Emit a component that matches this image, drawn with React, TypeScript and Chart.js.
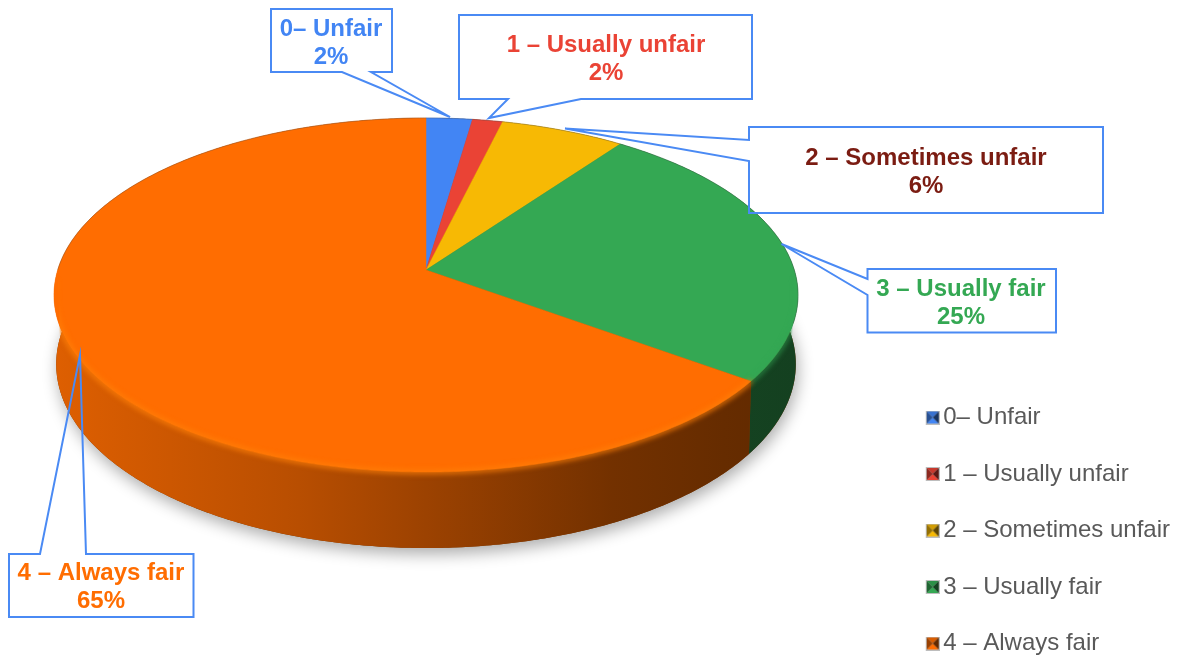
import React, { useEffect, useRef } from "react";
import { Chart, registerables } from "chart.js";

Chart.register(...registerables);

const categories = ["0– Unfair", "1 – Usually unfair", "2 – Sometimes unfair", "3 – Usually fair", "4 – Always fair"];
const values = [2.3, 1.5, 6.2, 25, 65];
const percentLabels = ["2%", "2%", "6%", "25%", "65%"];
const sliceColors = ["#4285f4", "#ea4335", "#f7b904", "#34a853", "#ff6d01"];
const labelColors = ["#4285f4", "#ea4335", "#7b1c12", "#34a853", "#ff6d01"];

// projected-disc layout
const P = { cx: 426, cy: 270, A: 368.3, B: 173.5, k: 0.1412, depthBase: 68, depthFront: 8, dropShrink: 0.994 };

// callout geometry: [left, top, right, bottom], wedge outline points
const calloutBoxes = [
  { r: [271, 9, 392, 72], side: "bottom", base: [342, 371], tip: [450, 117], ty: [28, 56], tx: 331 },
  { r: [459, 15, 752, 99], side: "bottom", base: [508, 581], tip: [489, 118], ty: [44, 72], tx: 606 },
  { r: [749, 127, 1103, 213], side: "left", base: [140, 161], tip: [565, 128.5], ty: [157, 185], tx: 926 },
  { r: [867.5, 269, 1056, 332.5], side: "left", base: [279, 295], tip: [781.5, 244], ty: [288, 316], tx: 961 },
  { r: [9, 554, 193.5, 617], side: "top", base: [40, 86], tip: [80, 355], ty: [572, 600], tx: 101 },
];

const rgb = (hex: string) => [1, 3, 5].map((i) => parseInt(hex.slice(i, i + 2), 16));
const shade = (hex: string, f: number) => {
  const [r, g, b] = rgb(hex);
  return `rgb(${Math.round(r * f)},${Math.round(g * f)},${Math.round(b * f)})`;
};

const rim = (a: number, dropped = false) => {
  const c = Math.cos(a), s = Math.sin(a);
  const w = 1 - P.k * s;
  const x = P.cx + ((P.A * c) / w) * (dropped ? P.dropShrink : 1);
  const y = P.cy + (P.B * s) / w + (dropped ? P.depthBase + P.depthFront * s : 0);
  return [x, y];
};

const trace = (ctx: CanvasRenderingContext2D, a0: number, a1: number, dropped = false, move = false) => {
  const n = Math.max(2, Math.ceil(Math.abs(a1 - a0) / 0.01));
  for (let i = 0; i <= n; i++) {
    const [x, y] = rim(a0 + ((a1 - a0) * i) / n, dropped);
    if (i === 0 && move) ctx.moveTo(x, y);
    else ctx.lineTo(x, y);
  }
};

const marker = (color: string) => {
  const cv = document.createElement("canvas");
  cv.width = 18;
  cv.height = 14;
  const c = cv.getContext("2d")!;
  c.translate(4, 0);
  c.fillStyle = "#bdbdbd";
  c.fillRect(0, 0, 14, 14);
  const tri = (pts: number[][], col: string) => {
    c.fillStyle = col;
    c.beginPath();
    pts.forEach((p, i) => (i ? c.lineTo(p[0], p[1]) : c.moveTo(p[0], p[1])));
    c.closePath();
    c.fill();
  };
  tri([[1, 1], [13, 1], [7, 7]], shade(color, 0.85));
  tri([[1, 13], [13, 13], [7, 7]], shade(color, 1));
  tri([[1, 1], [1, 13], [7, 7]], shade(color, 0.6));
  tri([[13, 1], [13, 13], [7, 7]], shade(color, 0.38));
  return cv;
};

const pie3d = {
  id: "pie3d",
  beforeDatasetsDraw(chart: any) {
    const ctx: CanvasRenderingContext2D = chart.ctx;
    const arcs = chart.getDatasetMeta(0).data;
    ctx.save();
    ctx.shadowColor = "rgba(0,0,0,0.33)";
    ctx.shadowBlur = 16;
    ctx.shadowOffsetY = 6;
    ctx.shadowOffsetX = 2;
    ctx.fillStyle = "#7a3800";
    ctx.beginPath();
    trace(ctx, 0, Math.PI * 2, true, true);
    ctx.closePath();
    ctx.fill();
    ctx.restore();
    arcs.forEach((arc: any, i: number) => {
      const g = ctx.createLinearGradient(P.cx - 372, 0, P.cx + 372, 0);
      g.addColorStop(0, shade(sliceColors[i], 0.87));
      g.addColorStop(0.33, shade(sliceColors[i], 0.72));
      g.addColorStop(0.5, shade(sliceColors[i], 0.61));
      g.addColorStop(0.75, shade(sliceColors[i], 0.45));
      g.addColorStop(0.9, shade(sliceColors[i], 0.4));
      g.addColorStop(1, shade(sliceColors[i], 0.38));
      ctx.fillStyle = g;
      ctx.beginPath();
      trace(ctx, arc.startAngle, arc.endAngle, false, true);
      trace(ctx, arc.endAngle, arc.startAngle, true);
      ctx.closePath();
      ctx.fill();
    });
    arcs.forEach((arc: any, i: number) => {
      ctx.fillStyle = sliceColors[i];
      ctx.strokeStyle = sliceColors[i];
      ctx.lineWidth = 0.5;
      ctx.beginPath();
      ctx.moveTo(P.cx, P.cy);
      trace(ctx, arc.startAngle, arc.endAngle);
      ctx.closePath();
      ctx.fill();
      ctx.stroke();
    });
    // soft bevel along the front rim, kept inside the pie's silhouette
    ctx.save();
    ctx.beginPath();
    trace(ctx, Math.PI, Math.PI * 2, false, true);
    trace(ctx, 0, Math.PI, true);
    ctx.closePath();
    ctx.clip();
    arcs.forEach((arc: any, i: number) => {
      const a0 = Math.max(arc.startAngle, 0.05), a1 = Math.min(arc.endAngle, Math.PI * 0.98);
      if (a1 > a0) {
        ctx.filter = "blur(2.5px)";
        ctx.strokeStyle = i === 4 ? "rgba(255,128,8,0.75)" : "rgba(50,165,84,0.6)";
        ctx.lineWidth = 5;
        ctx.beginPath();
        trace(ctx, a0, a1, false, true);
        ctx.stroke();
      }
    });
    ctx.restore();
    ctx.strokeStyle = "rgba(70,70,70,0.3)";
    ctx.lineWidth = 1;
    ctx.beginPath();
    trace(ctx, Math.PI, Math.PI * 2 + 0.3, false, true);
    ctx.stroke();
    return false;
  },
  afterDraw(chart: any) {
    const ctx: CanvasRenderingContext2D = chart.ctx;
    ctx.save();
    ctx.strokeStyle = "#4a8af4";
    ctx.lineWidth = 2;
    ctx.lineJoin = "miter";
    ctx.textAlign = "center";
    ctx.textBaseline = "middle";
    ctx.font = 'bold 24px "Liberation Sans", Arial, sans-serif';
    calloutBoxes.forEach((b, i) => {
      const [l, t, r, bt] = b.r;
      ctx.beginPath();
      ctx.moveTo(l, t);
      if (b.side === "top") {
        ctx.lineTo(b.base[0], t);
        ctx.lineTo(b.tip[0], b.tip[1]);
        ctx.lineTo(b.base[1], t);
      }
      ctx.lineTo(r, t);
      ctx.lineTo(r, bt);
      if (b.side === "bottom") {
        ctx.lineTo(b.base[1], bt);
        ctx.lineTo(b.tip[0], b.tip[1]);
        ctx.lineTo(b.base[0], bt);
      }
      ctx.lineTo(l, bt);
      if (b.side === "left") {
        ctx.lineTo(l, b.base[1]);
        ctx.lineTo(b.tip[0], b.tip[1]);
        ctx.lineTo(l, b.base[0]);
      }
      ctx.closePath();
      ctx.stroke();
      ctx.fillStyle = labelColors[i];
      ctx.fillText(categories[i], b.tx, b.ty[0] + 1);
      ctx.fillText(percentLabels[i], b.tx, b.ty[1] + 1);
    });
    ctx.restore();
  },
};

export default function App() {
  const ref = useRef<HTMLCanvasElement>(null);
  useEffect(() => {
    const chart = new Chart(ref.current!, {
      type: "pie",
      data: {
        labels: categories,
        datasets: [{ data: values, backgroundColor: sliceColors, borderWidth: 0 }],
      },
      options: {
        responsive: false,
        animation: false,
        layout: { padding: { right: -1, bottom: -31, top: 0, left: 0 } },
        plugins: {
          tooltip: { enabled: false },
          legend: {
            position: "right",
            align: "end",
            labels: {
              color: "#595959",
              font: { family: '"Liberation Sans", Arial, sans-serif', size: 24 },
              usePointStyle: true,
              boxWidth: 14,
              boxHeight: 14,
              pointStyleWidth: 1,
              padding: 32.5,
              generateLabels: (c: any) =>
                (Chart.overrides as any).pie.plugins.legend.labels
                  .generateLabels(c)
                  .map((it: any, i: number) => ({ ...it, pointStyle: marker(sliceColors[i]) })),
            },
          },
        },
      },
      plugins: [pie3d],
    } as any);
    return () => chart.destroy();
  }, []);
  return (
    <div style={{ position: "absolute", left: 0, top: 0, width: 1179, height: 657, background: "#fff" }}>
      <canvas ref={ref} width={1179} height={657} style={{ display: "block" }} />
    </div>
  );
}
